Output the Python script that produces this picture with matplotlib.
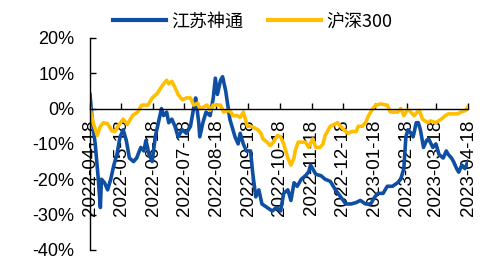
import matplotlib.pyplot as plt
import matplotlib.dates as mdates
from matplotlib.ticker import FuncFormatter, MultipleLocator
import pandas as pd

plt.rcParams['font.family'] = ['Liberation Sans', 'Noto Sans CJK SC', 'DejaVu Sans']

# 江苏神通 cumulative return (%)
jssht_dates = [
    '2022-04-18', '2022-04-20', '2022-04-23', '2022-04-26', '2022-04-28', '2022-04-29',
    '2022-05-02', '2022-05-05', '2022-05-08', '2022-05-11', '2022-05-14', '2022-05-17',
    '2022-05-20', '2022-05-23', '2022-05-26', '2022-05-30', '2022-06-02', '2022-06-06',
    '2022-06-09', '2022-06-11', '2022-06-14', '2022-06-17', '2022-06-20', '2022-06-23',
    '2022-06-26', '2022-06-28', '2022-07-01', '2022-07-03', '2022-07-06', '2022-07-09',
    '2022-07-12', '2022-07-16', '2022-07-20', '2022-07-24', '2022-07-27', '2022-07-29',
    '2022-08-01', '2022-08-02', '2022-08-05', '2022-08-08', '2022-08-12', '2022-08-15',
    '2022-08-17', '2022-08-19', '2022-08-22', '2022-08-24', '2022-08-27', '2022-08-29',
    '2022-08-31', '2022-09-02', '2022-09-05', '2022-09-08', '2022-09-10', '2022-09-13',
    '2022-09-16', '2022-09-20', '2022-09-22', '2022-09-25', '2022-09-28', '2022-10-01',
    '2022-10-06', '2022-10-11', '2022-10-15', '2022-10-19', '2022-10-22', '2022-10-26',
    '2022-10-29', '2022-11-01', '2022-11-04', '2022-11-08', '2022-11-12', '2022-11-15',
    '2022-11-17', '2022-11-22', '2022-11-27', '2022-12-01', '2022-12-06', '2022-12-11',
    '2022-12-16', '2022-12-21', '2022-12-26', '2022-12-31', '2023-01-04', '2023-01-09',
    '2023-01-14', '2023-01-18', '2023-01-21', '2023-01-26', '2023-01-30', '2023-02-04',
    '2023-02-09', '2023-02-12', '2023-02-15', '2023-02-17', '2023-02-19', '2023-02-22',
    '2023-02-24', '2023-02-27', '2023-03-01', '2023-03-03', '2023-03-06', '2023-03-09',
    '2023-03-11', '2023-03-15', '2023-03-18', '2023-03-21', '2023-03-25', '2023-03-28',
    '2023-03-30', '2023-04-02', '2023-04-04', '2023-04-07', '2023-04-09', '2023-04-12',
    '2023-04-15', '2023-04-18',
]
jssht_values = [
    4, -3, -10, -20, -28, -20,
    -21, -23, -20, -16, -13, -8,
    -6, -9, -14, -15, -14, -11,
    -12, -9, -13, -15, -8, -4,
    0, -2, -1, -4, -3, -5,
    -8, -6, -7, -5, 0, 3,
    -4, -8, -4, -1, -2, 3,
    8.6, 4, 8, 9, 5, 1,
    -3, -5, -8, -10, -7, -10,
    -12, -12, -18, -25, -23, -27,
    -28, -29, -28, -29, -24, -23,
    -26, -21, -22, -20, -19, -18,
    -16, -18.6, -19, -20, -20.6, -23,
    -25, -27, -27, -26.6, -26, -27,
    -27, -25, -24, -24, -22, -22,
    -21, -20, -17, -8, -6, -7,
    -8, -4, -4, -6, -11, -9,
    -8.6, -11, -10, -13, -14, -12,
    -13, -14, -15, -17, -18, -16,
    -17, -15,
]

# 沪深300 cumulative return (%)
hs300_dates = [
    '2022-04-18', '2022-04-21', '2022-04-25', '2022-04-28', '2022-05-01', '2022-05-05',
    '2022-05-09', '2022-05-12', '2022-05-15', '2022-05-20', '2022-05-24', '2022-05-29',
    '2022-06-03', '2022-06-07', '2022-06-13', '2022-06-17', '2022-06-22', '2022-06-27',
    '2022-07-01', '2022-07-03', '2022-07-06', '2022-07-09', '2022-07-12', '2022-07-16',
    '2022-07-20', '2022-07-24', '2022-07-27', '2022-07-31', '2022-08-02', '2022-08-06',
    '2022-08-09', '2022-08-12', '2022-08-15', '2022-08-19', '2022-08-22', '2022-08-25',
    '2022-08-29', '2022-09-01', '2022-09-03', '2022-09-07', '2022-09-10', '2022-09-13',
    '2022-09-15', '2022-09-17', '2022-09-20', '2022-09-24', '2022-09-27', '2022-09-30',
    '2022-10-02', '2022-10-06', '2022-10-09', '2022-10-12', '2022-10-16', '2022-10-19',
    '2022-10-22', '2022-10-26', '2022-10-29', '2022-11-01', '2022-11-02', '2022-11-05',
    '2022-11-09', '2022-11-12', '2022-11-15', '2022-11-19', '2022-11-22', '2022-11-26',
    '2022-11-29', '2022-12-01', '2022-12-06', '2022-12-10', '2022-12-13', '2022-12-18',
    '2022-12-23', '2022-12-27', '2022-12-31', '2023-01-02', '2023-01-06', '2023-01-09',
    '2023-01-12', '2023-01-16', '2023-01-19', '2023-01-24', '2023-01-29', '2023-01-30',
    '2023-02-02', '2023-02-06', '2023-02-09', '2023-02-12', '2023-02-15', '2023-02-18',
    '2023-02-20', '2023-02-25', '2023-02-28', '2023-03-02', '2023-03-05', '2023-03-10',
    '2023-03-13', '2023-03-18', '2023-03-23', '2023-03-27', '2023-03-30', '2023-04-03',
    '2023-04-08', '2023-04-11', '2023-04-16', '2023-04-18',
]
hs300_values = [
    0, -4, -7.6, -5, -4, -4.3,
    -6.3, -6.5, -5, -3, -4.5, -2,
    -1, 1, 1, 3, 4.3, 6.6,
    8, 7, 7.7, 6, 4, 2.5,
    3, 3, 1, 1.5, 0, 0.5,
    1, -0.5, 1, 1, 1, -1,
    -0.5, -1, -2, -2, -2.5, -1,
    -3, -5, -5, -5.5, -6, -7,
    -8.6, -9.5, -10.5, -9.5, -7.6, -8,
    -10, -14, -16, -14, -12, -9.5,
    -9.5, -9.5, -11, -8.6, -11, -11,
    -10, -7.6, -5, -4.5, -4, -5.7,
    -7, -6.5, -6.5, -5, -5, -4,
    -2, 0, 1, 1.3, 1, 1,
    -1, -1, -1, 0, -2, -0.5,
    -0.5, -2, -1, -0.5, -3, -4,
    -3.5, -4, -3, -2, -1.5, -1.5,
    -1.5, -1, -0.5, 0.5,
]

tick_dates = pd.date_range('2022-04-18', '2023-04-18', freq=pd.DateOffset(months=1))

fig = plt.figure(figsize=(4.84, 2.65), dpi=100)
ax = fig.add_axes([0.186, 0.057, 0.781, 0.8])

ax.plot(pd.to_datetime(jssht_dates), jssht_values, color='#0f4fa3', lw=2.6, label='江苏神通')
ax.plot(pd.to_datetime(hs300_dates), hs300_values, color='#ffbf00', lw=2.6, label='沪深300')

ax.set_xlim(pd.Timestamp('2022-04-18'), pd.Timestamp('2023-04-18'))
ax.set_ylim(-40, 20)
ax.yaxis.set_major_locator(MultipleLocator(10))
ax.yaxis.set_major_formatter(FuncFormatter(lambda v, p: '%d%%' % round(v)))

ax.set_xticks(tick_dates)
ax.xaxis.set_major_formatter(mdates.DateFormatter('%Y-%m-%d'))

ax.spines['top'].set_visible(False)
ax.spines['right'].set_visible(False)
ax.spines['bottom'].set_position(('data', 0))
for s in ['left', 'bottom']:
    ax.spines[s].set_linewidth(1.0)

ax.tick_params(axis='x', direction='in', length=4, width=1, pad=8, labelsize=13.5,
               labelrotation=90)
ax.tick_params(axis='y', direction='in', length=4, width=1, pad=11, labelsize=13)

leg = ax.legend(loc='lower center', bbox_to_anchor=(0.43, 1.0), ncol=2, frameon=False,
                prop={'family': ['Noto Sans CJK SC', 'Liberation Sans'], 'size': 13},
                handlelength=2.9, handletextpad=0.3, columnspacing=1.4,
                borderaxespad=0.0)
for line in leg.get_lines():
    line.set_linewidth(3)

fig.savefig('out.png', dpi=100)
